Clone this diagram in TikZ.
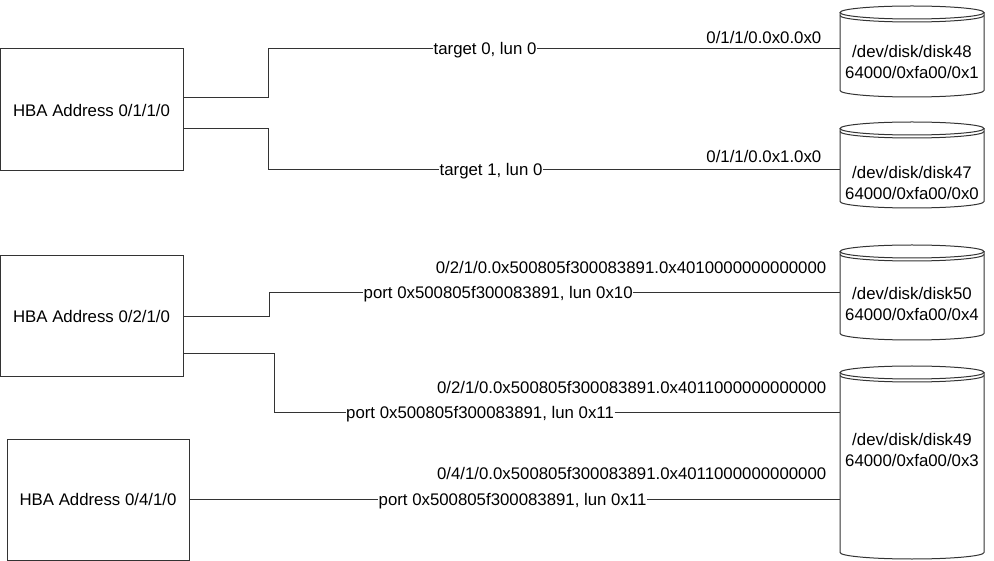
\documentclass[tikz,border=0pt]{standalone}
\usepackage{fontspec}
\setmainfont{Liberation Sans}

\begin{document}
\begin{tikzpicture}[x=1pt,y=1pt,font=\fontsize{16.8}{20.5}\selectfont]
				\tikzset{wire/.style={line width=1pt,draw=black!80}}
				\tikzset{hba/.style={wire,minimum width=183pt,minimum height=122pt,inner sep=0pt}}
				\tikzset{tag/.style={inner sep=0pt,inner xsep=0.5pt,text height=12pt,text depth=0pt}}
				\tikzset{disk/.style={align=center,inner sep=0pt,minimum width=144pt}}
				\useasboundingbox (0,0) rectangle (994,-561);
				\node[hba] (hba1) at (91.5,-110) {HBA Address 0/1/1/0};
				\node[hba,minimum height=121pt] (hba2) at (91.5,-316.5) {HBA Address 0/2/1/0};
				\node[hba,minimum width=182pt,minimum height=121pt] (hba4) at (98,-499.5) {HBA Address 0/4/1/0};
				\foreach \dn/\dm/\ya/\yb/\yc in {48/1/6/97/62,47/0/122/208/183,50/4/245/340/304,49/3/366/559/450}{
					\draw[wire] (912,-\ya-6.5) ellipse [x radius=72,y radius=6.5];
					\draw[wire] (840,-\ya-9.5) arc [start angle=180,end angle=360,x radius=72,y radius=6.5];
					\draw[wire] (840,-\ya-6.5) -- (840,-\yb+6.5) arc [start angle=180,end angle=360,x radius=72,y radius=6.5] -- (984,-\ya-6.5);
					\node[disk] (disk\dn) at (912,-\yc) {/dev/disk/disk\dn\\64000/0xfa00/0x\dm};
				}
				\node[tag,anchor=west] (tgt0) at (433,-49) {target 0, lun 0};
				\node[tag,anchor=west] (tgt1) at (439,-170) {target 1, lun 0};
				\node[tag,anchor=west] (port10) at (363,-292.5) {port 0x500805f300083891, lun 0x10};
				\node[tag,anchor=west] (port11a) at (345.5,-413) {port 0x500805f300083891, lun 0x11};
				\node[tag,anchor=west] (port11b) at (378,-499.5) {port 0x500805f300083891, lun 0x11};
				\node[tag,anchor=east] (hwp48) at (822,-37.5) {0/1/1/0.0x0.0x0};
				\node[tag,anchor=east] (hwp47) at (822,-157) {0/1/1/0.0x1.0x0};
				\node[tag,anchor=east] (hwp50) at (827,-268) {0/2/1/0.0x500805f300083891.0x4010000000000000};
				\node[tag,anchor=east] (hwp49a) at (827,-388) {0/2/1/0.0x500805f300083891.0x4011000000000000};
				\node[tag,anchor=east] (hwp49b) at (827,-473) {0/4/1/0.0x500805f300083891.0x4011000000000000};
				\draw[wire] ([yshift=12pt]hba1.east) -- ++(85,0) |- (tgt0.west);
				\draw[wire] ([yshift=-19pt]hba1.east) -- ++(85,0) |- (tgt1.west);
				\draw[wire] (hba2.east) -- ++(86,0) |- (port10.west);
				\draw[wire] ([yshift=-37.5pt]hba2.east) -- ++(91,0) |- (port11a.west);
				\draw[wire] (hba4.east) -- (port11b.west);
				\draw[wire] (tgt0.east) -- (tgt0.east -| disk48.west);
				\draw[wire] (tgt1.east) -- (tgt1.east -| disk47.west);
				\draw[wire] (port10.east) -- (port10.east -| disk50.west);
				\draw[wire] (port11a.east) -- (port11a.east -| disk49.west);
				\draw[wire] (port11b.east) -- (port11b.east -| disk49.west);
			\end{tikzpicture}
\end{document}
